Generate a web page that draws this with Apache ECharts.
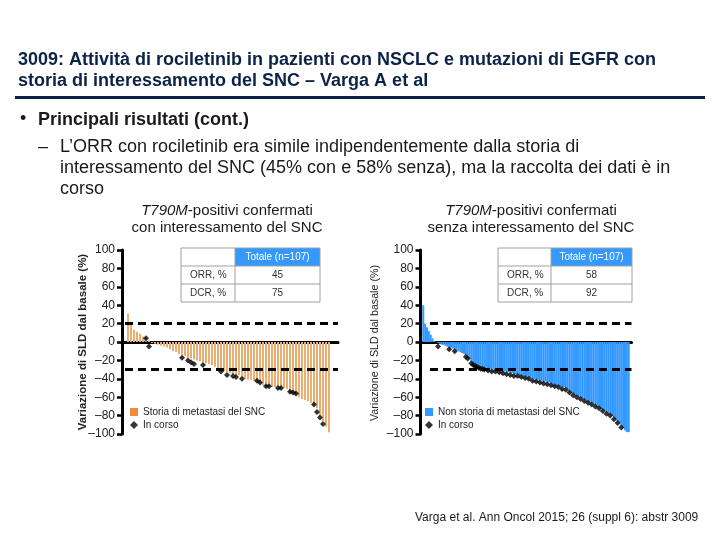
<!DOCTYPE html>
<html><head><meta charset="utf-8">
<script src="https://cdn.jsdelivr.net/npm/echarts/dist/echarts.min.js"></script>
<style>html,body{margin:0;padding:0;background:#fff}#c{width:720px;height:540px}</style>
</head><body><div id="c"></div>
<script>
// ---- data ----
const yTicks = [100, 80, 60, 40, 20, 0, -20, -40, -60, -80, -100];
const thresholds = [20, -30];

const leftValues = [31, 20, 13, 11, 9, 6, 4, 2, -1, -2, -3, -4, -5, -6, -8, -10, -11, -13, -14, -15,
  -17, -18, -19, -20, -21, -22, -23, -24, -25, -27, -29, -30, -32, -33, -34, -35, -36, -36, -37, -40,
  -41, -41, -42, -43, -45, -47, -48, -48, -49, -49, -49, -50, -50, -51, -54, -56, -58, -60, -62, -63,
  -64, -66, -68, -72, -80, -86, -92, -98];
const leftOngoingIdx = [7, 8, 19, 21, 22, 23, 26, 32, 34, 36, 37, 39, 44, 45, 47, 48, 51, 52, 55, 56, 57, 63, 64, 65, 66, 68];
const leftOngoingVal = [4, -5, -17, -20, -22, -24, -25, -32, -36, -37, -38, -40, -42, -44, -48, -48, -50, -50, -54, -55, -56, -68, -76, -82, -89, -101];

const rightValues = [40, 20, 16, 12, 8, 4, 1, 0, -1, -2, -3, -3, -4, -5, -6, -6, -7, -8, -9, -10,
  -11, -12, -13, -14, -16, -18, -21, -23, -24, -25, -26, -27, -27, -28, -28, -29, -29, -30, -30, -30,
  -31, -31, -32, -32, -32, -33, -33, -34, -34, -35, -35, -35, -36, -36, -37, -37, -38, -38, -39, -40,
  -40, -41, -41, -42, -42, -43, -43, -44, -44, -45, -46, -46, -47, -47, -48, -49, -49, -50, -51, -53,
  -55, -56, -57, -58, -59, -60, -61, -62, -63, -64, -65, -66, -67, -68, -69, -70, -72, -73, -74, -76,
  -77, -78, -80, -82, -84, -86, -88, -91, -93, -96, -98, -98];
const rightOngoingIdx = [9, 15, 18, 24, 25, 27, 28, 29, 30, 31, 32, 33, 34, 36, 38, 40, 42, 44, 46, 48,
  50, 52, 54, 56, 58, 60, 62, 64, 66, 68, 70, 72, 74, 76, 78, 80, 82, 84, 86, 88, 90, 92, 94, 96, 98,
  100, 102, 104, 106, 108, 111];
const rightOngoingVal = [-5, -8, -10, -16, -18, -23, -25, -26, -27, -28, -29, -29, -30, -31, -32, -32, -33, -34, -35, -36,
  -37, -37, -38, -39, -40, -42, -43, -44, -45, -46, -47, -48, -49, -51, -52, -55, -58, -60, -62, -64, -66, -68, -70, -72, -75,
  -78, -80, -84, -88, -93, -101];

const tableHeader = 'Totale (n=107)';
const tableRowLabels = ['ORR, %', 'DCR, %'];
const leftTable = [45, 75];
const rightTable = [58, 92];

const leftBarName = 'Storia di metastasi del SNC';
const rightBarName = 'Non storia di metastasi del SNC';
const ongoingName = 'In corso';

const titleLines = ['3009: Attività di rociletinib in pazienti con NSCLC e mutazioni di EGFR con',
  'storia di interessamento del SNC – Varga A et al'];
const bulletText = 'Principali risultati (cont.)';
const bodyLines = ['L’ORR con rociletinib era simile indipendentemente dalla storia di',
  'interessamento del SNC (45% con e 58% senza), ma la raccolta dei dati è in',
  'corso'];
const leftSub = ['{i|T790M}-positivi confermati', 'con interessamento del SNC'];
const rightSub = ['{i|T790M}-positivi confermati', 'senza interessamento del SNC'];
const yName = 'Variazione di SLD dal basale (%)';
const footer = 'Varga et al. Ann Oncol 2015; 26 (suppl 6): abstr 3009';

// ---- chart ----
const FF = '"Liberation Sans", Arial, sans-serif';
const NAVY = '#0B2346';
const ORANGE = '#EBAE72';
const ORANGE_KEY = '#F08A3C';
const BLUE = '#3399FF';

function yAxisDef(gi) {
  return {
    gridIndex: gi, type: 'value', min: -100, max: 100, interval: 20,
    axisLine: { show: true, onZero: false, lineStyle: { color: '#000', width: 3 } },
    axisTick: { show: true, length: 5, lineStyle: { color: '#000', width: 2.5 } },
    axisLabel: { margin: 7, fontFamily: FF, fontSize: 12, color: '#222',
      formatter: v => yTicks.includes(v) ? String(v).replace('-', '\u2013') : '' },
    splitLine: { show: false }
  };
}
function xAxisDef(gi, min, max) {
  return {
    gridIndex: gi, type: 'value', min: min, max: max,
    axisLine: { show: true, onZero: true, lineStyle: { color: '#000', width: 3 } },
    axisTick: { show: false }, axisLabel: { show: false }, splitLine: { show: false }
  };
}
function markLines(x0, x1) {
  return {
    silent: true, symbol: 'none', label: { show: false },
    lineStyle: { color: '#000', type: [8, 5], width: 3 },
    data: thresholds.map(t => [{ coord: [x0, t] }, { coord: [x1, t] }])
  };
}
function tableGraphics(x0, x1, x2, vals) {
  const ys = [248, 266, 284, 302];
  const g = [];
  g.push({ type: 'rect', shape: { x: x1, y: ys[0], width: x2 - x1, height: ys[1] - ys[0] }, style: { fill: BLUE } });
  ys.forEach(y => g.push({ type: 'line', shape: { x1: x0, y1: y, x2: x2, y2: y }, style: { stroke: '#A0A0A0', lineWidth: 1 } }));
  [x0, x1, x2].forEach(x => g.push({ type: 'line', shape: { x1: x, y1: ys[0], x2: x, y2: ys[3] }, style: { stroke: '#A0A0A0', lineWidth: 1 } }));
  g.push({ type: 'text', style: { text: tableHeader, x: (x1 + x2) / 2, y: (ys[0] + ys[1]) / 2, align: 'center', verticalAlign: 'middle', font: '10px ' + FF, fill: '#fff' } });
  tableRowLabels.forEach((lab, k) => {
    const yc = (ys[k + 1] + ys[k + 2]) / 2;
    g.push({ type: 'text', style: { text: lab, x: x0 + 9, y: yc, align: 'left', verticalAlign: 'middle', font: '10px ' + FF, fill: '#333' } });
    g.push({ type: 'text', style: { text: String(vals[k]), x: (x1 + x2) / 2, y: yc, align: 'center', verticalAlign: 'middle', font: '10px ' + FF, fill: '#333' } });
  });
  return g;
}
function txt(text, x, y, font, fill, align, extra) {
  return Object.assign({ type: 'text', style: Object.assign({ text: text, x: x, y: y, font: font, fill: fill || '#1a1a1a', align: align || 'left', verticalAlign: 'middle' }, extra || {}) });
}

const graphics = [];
titleLines.forEach((t, k) => graphics.push(txt(t, 18, 60 + k * 21, 'bold 18px ' + FF, NAVY)));
graphics.push({ type: 'rect', shape: { x: 15, y: 96, width: 690, height: 3 }, style: { fill: NAVY } });
graphics.push(txt('\u2022', 20, 119, '18px ' + FF, '#1a1a1a'));
graphics.push(txt(bulletText, 38, 120, 'bold 18px ' + FF, '#1a1a1a'));
graphics.push(txt('\u2013', 38, 147, '18px ' + FF, '#1a1a1a'));
bodyLines.forEach((t, k) => graphics.push(txt(t, 60, 147 + k * 21, '18px ' + FF, '#1a1a1a')));
const rich = { i: { fontStyle: 'italic', fontSize: 15, fontFamily: FF, fill: '#1a1a1a' } };
leftSub.forEach((t, k) => graphics.push(txt(t, 227, 211 + k * 17, '15px ' + FF, '#1a1a1a', 'center', { rich: rich })));
rightSub.forEach((t, k) => graphics.push(txt(t, 531, 211 + k * 17, '15px ' + FF, '#1a1a1a', 'center', { rich: rich })));
graphics.push({ type: 'text', x: 83, y: 342, rotation: Math.PI / 2, style: { text: yName, x: 0, y: 0, align: 'center', verticalAlign: 'middle', font: 'bold 11.5px ' + FF, fill: '#222' } });
graphics.push({ type: 'text', x: 375, y: 343, rotation: Math.PI / 2, style: { text: yName, x: 0, y: 0, align: 'center', verticalAlign: 'middle', font: '10.7px ' + FF, fill: '#222' } });
graphics.push(...tableGraphics(181, 235, 320, leftTable));
graphics.push(...tableGraphics(498, 551, 632, rightTable));
graphics.push(txt(footer, 415, 518, '12px ' + FF, '#1a1a1a'));

function legendDef(left, barName, keyColor) {
  return {
    orient: 'vertical', left: left, top: 407, padding: 0, itemGap: 3,
    itemWidth: 8, itemHeight: 8, selectedMode: false,
    textStyle: { fontFamily: FF, fontSize: 10, color: '#222' },
    data: [{ name: barName, icon: 'rect', itemStyle: { color: keyColor } }, { name: ongoingName, icon: 'diamond' }]
  };
}

const chart = echarts.init(document.getElementById('c'), null, { renderer: 'canvas' });
chart.setOption({
  animation: false,
  backgroundColor: '#fff',
  grid: [
    { left: 122, top: 250, width: 216, height: 184 },
    { left: 420.5, top: 250, width: 211, height: 184 }
  ],
  xAxis: [xAxisDef(0, -1, 71), xAxisDef(1, -0.5, 113.5)],
  yAxis: [yAxisDef(0), yAxisDef(1)],
  legend: [legendDef(130, leftBarName, ORANGE_KEY), legendDef(425, rightBarName, BLUE)],
  series: [
    { name: leftBarName, type: 'bar', xAxisIndex: 0, yAxisIndex: 0, barWidth: 2,
      itemStyle: { color: ORANGE }, data: leftValues.map((v, i) => [i + 1, v]),
      markLine: markLines(0, 71), z: 2 },
    { name: ongoingName, type: 'scatter', xAxisIndex: 0, yAxisIndex: 0, symbol: 'diamond', symbolSize: 6,
      itemStyle: { color: '#000' }, data: leftOngoingIdx.map((x, k) => [x, leftOngoingVal[k]]), z: 4 },
    { name: rightBarName, type: 'bar', xAxisIndex: 1, yAxisIndex: 1, barWidth: 2,
      itemStyle: { color: BLUE }, data: rightValues.map((v, i) => [i + 1, v]),
      markLine: markLines(4.6, 113.5), z: 2 },
    { name: ongoingName, type: 'scatter', xAxisIndex: 1, yAxisIndex: 1, symbol: 'diamond', symbolSize: 6,
      itemStyle: { color: '#000' }, data: rightOngoingIdx.map((x, k) => [x, rightOngoingVal[k]]), z: 4 }
  ],
  graphic: graphics
});
</script>
</body></html>
